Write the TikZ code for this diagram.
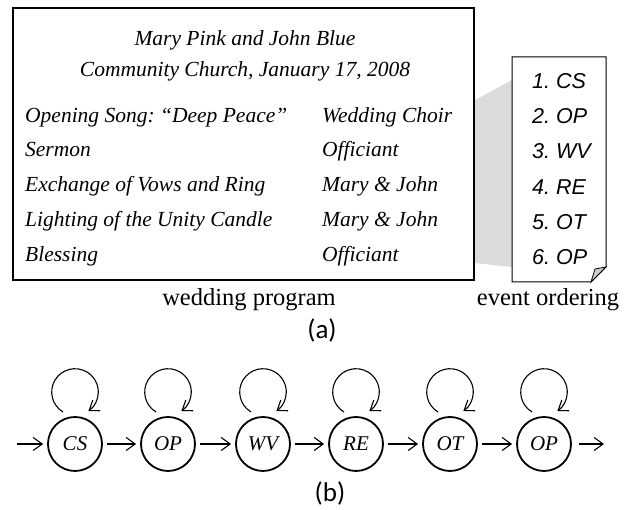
\documentclass[tikz,border=0pt]{standalone}
\usepackage{fontspec}
\setmainfont{Liberation Serif}
\newfontfamily\progfont{Liberation Serif}
\newfontfamily\cardfont{Liberation Sans}
\newfontfamily\capfont{Carlito}
\usetikzlibrary{arrows.meta}
\frenchspacing
\tikzset{
  prog/.style={font=\progfont\itshape\fontsize{21.5}{26}\selectfont, inner sep=0pt, anchor=base west},
  progtitle/.style={font=\progfont\itshape\fontsize{21.5}{26}\selectfont, inner sep=0pt, anchor=base},
  item/.style={font=\cardfont\itshape\fontsize{21.5}{26}\selectfont, inner sep=0pt, anchor=base west},
  figlabel/.style={font=\fontsize{24.5}{29}\selectfont, inner sep=0pt, anchor=base},
  subcap/.style={font=\capfont\fontsize{27}{32}\selectfont, inner sep=0pt},
  evstate/.style={circle, draw, line width=1.8pt, minimum size=54pt, inner sep=0pt,
    font=\itshape\fontsize{21}{25}\selectfont},
  flow/.style={-{Straight Barb[length=9pt,width=13pt]}, line width=1.1pt},
  selfloop/.style={-{Straight Barb[length=9pt,width=13pt]}, line width=1.1pt},
}
\begin{document}
\begin{tikzpicture}[x=1pt,y=1pt]
  \useasboundingbox (0,0) rectangle (633,510);
  \fill[gray!28] (475,410) -- (512,430) -- (512,243) -- (475,247) -- cycle;
  \draw[line width=1.6pt] (13,230) rectangle (474,502);
  \node[progtitle] (couple) at (245,464) {Mary Pink and John Blue};
  \node[progtitle] (place) at (245,433) {Community Church, January 17, 2008};
  \node[prog] (e1) at (25,387) {Opening Song: “Deep Peace”};
  \node[prog] (e2) at (25,353) {Sermon};
  \node[prog] (e3) at (25,318) {Exchange of Vows and Ring};
  \node[prog] (e4) at (25,283) {Lighting of the Unity Candle};
  \node[prog] (e5) at (25,248) {Blessing};
  \node[prog] (p1) at (322,387) {Wedding Choir};
  \node[prog] (p2) at (322,353) {Officiant};
  \node[prog] (p3) at (322,318) {Mary \& John};
  \node[prog] (p4) at (322,283) {Mary \& John};
  \node[prog] (p5) at (322,248) {Officiant};
  \draw[line width=1pt, fill=white] (512,453) -- (606,453) -- (606,243) -- (591,228) -- (512,228) -- cycle;
  \draw[line width=0.8pt, fill=gray!40] (606,243) -- (595,241) -- (591,228) -- cycle;
  \node[item] (o1) at (532,421) {1. CS};
  \node[item] (o2) at (532,386) {2. OP};
  \node[item] (o3) at (532,351) {3. WV};
  \node[item] (o4) at (532,315) {4. RE};
  \node[item] (o5) at (532,280) {5. OT};
  \node[item] (o6) at (532,245) {6. OP};
  \node[figlabel] (program) at (249,204) {wedding program};
  \node[figlabel] (ordering) at (548,204) {event ordering};
  \node[subcap] (capa) at (322,179) {(a)};
  \draw
    (75,66) node[evstate] (1){CS}
    (168,66) node[evstate] (2){OP}
    (263,66) node[evstate] (3){WV}
    (356,66) node[evstate] (4){RE}
    (450,66) node[evstate] (5){OT}
    (544,66) node[evstate] (6){OP};
  \coordinate (start) at (13,66);
  \coordinate (end) at (608,66);
  \begin{scope}[flow, shorten <=4pt, shorten >=4pt]
    \draw (start) to (1);
    \draw (1) to (2);
    \draw (2) to (3);
    \draw (3) to (4);
    \draw (4) to (5);
    \draw (5) to (6);
    \draw[shorten <=7pt] (6) to (end);
  \end{scope}
  \begin{scope}[selfloop]
    \draw ([shift={(-12pt,32pt)}]1.center) arc[start angle=239, end angle=-55, radius=23.3pt];
    \draw ([shift={(-12pt,32pt)}]2.center) arc[start angle=239, end angle=-55, radius=23.3pt];
    \draw ([shift={(-12pt,32pt)}]3.center) arc[start angle=239, end angle=-55, radius=23.3pt];
    \draw ([shift={(-12pt,32pt)}]4.center) arc[start angle=239, end angle=-55, radius=23.3pt];
    \draw ([shift={(-12pt,32pt)}]5.center) arc[start angle=239, end angle=-55, radius=23.3pt];
    \draw ([shift={(-12pt,32pt)}]6.center) arc[start angle=239, end angle=-55, radius=23.3pt];
  \end{scope}
  \node[subcap] (capb) at (330,16) {(b)};
\end{tikzpicture}
\end{document}
